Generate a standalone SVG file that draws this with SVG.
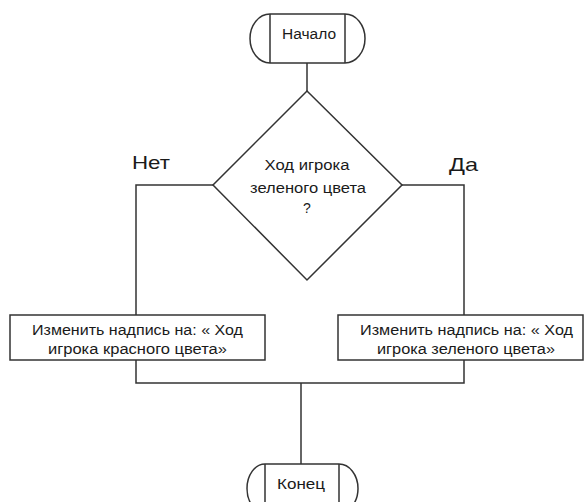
<svg xmlns="http://www.w3.org/2000/svg" width="585" height="502" viewBox="0 0 585 502">
  <style>
    .shape { fill: #ffffff; stroke: #333333; stroke-width: 1.5; }
    .inner { fill: none; stroke: #333333; stroke-width: 1.5; }
    .wire { fill: none; stroke: #333333; stroke-width: 1.5; }
    .txt { font-family: "Liberation Sans", Arial, sans-serif; font-size: 14px; fill: #1a1a1a; text-anchor: middle; }
    .lbl { font-family: "Liberation Sans", Arial, sans-serif; font-size: 19px; fill: #1a1a1a; }
  </style>

  <g id="connectors">
    <path class="wire" d="M307,63 V91"/>
    <path class="wire" d="M213,185 H136 V315"/>
    <path class="wire" d="M402,185 H464 V315"/>
    <path class="wire" d="M136,360 V383 H464 V360"/>
    <path class="wire" d="M301,383 V464"/>
  </g>

  <g id="start">
    <path class="shape" d="M270,14 H345 A20,24.5 0 0 1 345,63 H270 A20,24.5 0 0 1 270,14 Z"/>
    <path class="inner" d="M270,14 V63 M345,14 V63"/>
    <text class="txt" x="309" y="39" textLength="54" lengthAdjust="spacingAndGlyphs">Начало</text>
  </g>

  <g id="decision">
    <polygon class="shape" points="307,91 402,185 307,280 213,185"/>
    <text class="txt" x="307" y="170" textLength="85" lengthAdjust="spacingAndGlyphs">Ход игрока</text>
    <text class="txt" x="308" y="193" textLength="116" lengthAdjust="spacingAndGlyphs">зеленого цвета</text>
    <text class="txt" x="307" y="213">?</text>
  </g>

  <g id="label-no">
    <text class="lbl" x="132" y="169" textLength="38" lengthAdjust="spacingAndGlyphs">Нет</text>
  </g>
  <g id="label-yes">
    <text class="lbl" x="449" y="171" textLength="29" lengthAdjust="spacingAndGlyphs">Да</text>
  </g>

  <g id="set-red">
    <rect class="shape" x="10" y="315" width="255" height="45"/>
    <text class="txt" x="137.5" y="335" textLength="211" lengthAdjust="spacingAndGlyphs">Изменить надпись на: « Ход</text>
    <text class="txt" x="137.5" y="354" textLength="179" lengthAdjust="spacingAndGlyphs">игрока красного цвета»</text>
  </g>

  <g id="set-green">
    <rect class="shape" x="338" y="315" width="245" height="45"/>
    <text class="txt" x="466.5" y="335" textLength="213" lengthAdjust="spacingAndGlyphs">Изменить надпись на: « Ход</text>
    <text class="txt" x="466" y="354" textLength="178" lengthAdjust="spacingAndGlyphs">игрока зеленого цвета»</text>
  </g>

  <g id="end">
    <path class="shape" d="M265,464 H339 A19,24.5 0 0 1 339,513 H265 A18,24.5 0 0 1 265,464 Z"/>
    <path class="inner" d="M265,464 V513 M339,464 V513"/>
    <text class="txt" x="301" y="489" textLength="48" lengthAdjust="spacingAndGlyphs">Конец</text>
  </g>
</svg>
